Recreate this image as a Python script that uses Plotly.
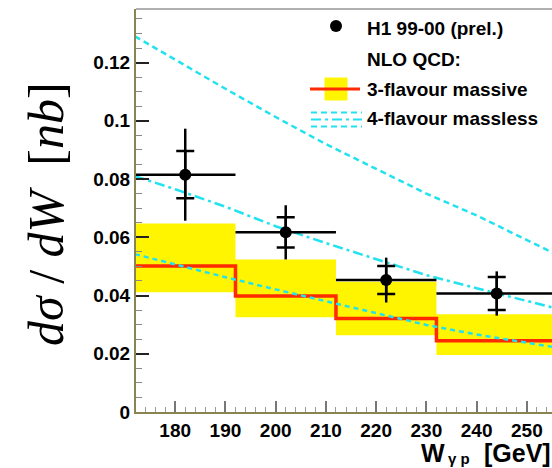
import plotly.graph_objects as go

# ---------------- data ----------------
W_edges = [172, 192, 212, 232, 256]
W_centers = [182, 202, 222, 244]
W_halfwidth = [10, 10, 10, 12]
h1_xsec = [0.0815, 0.0617, 0.0453, 0.0407]
h1_stat = [0.0081, 0.0052, 0.0048, 0.0057]
h1_tot = [0.0158, 0.0093, 0.0077, 0.0076]

mass3_central = [0.0501, 0.0398, 0.0321, 0.0245]
mass3_low = [0.0411, 0.0325, 0.0264, 0.0196]
mass3_high = [0.0647, 0.0524, 0.0447, 0.0336]

W_curve = [172, 180, 190, 200, 210, 220, 230, 240, 250, 256]
massless_up = [0.129, 0.121, 0.111, 0.1013, 0.092, 0.0835, 0.075, 0.0675, 0.059, 0.054]
massless_mid = [0.081, 0.0765, 0.0705, 0.0638, 0.058, 0.0525, 0.047, 0.0425, 0.038, 0.0355]
massless_low = [0.0542, 0.0506, 0.0463, 0.0421, 0.0381, 0.0341, 0.0299, 0.0266, 0.0238, 0.0221]

x_tick_vals = [180, 190, 200, 210, 220, 230, 240, 250]
x_tick_text = ["180", "190", "200", "210", "220", "230", "240", "250"]
y_tick_vals = [0, 0.02, 0.04, 0.06, 0.08, 0.1, 0.12]
y_tick_text = ["0", "0.02", "0.04", "0.06", "0.08", "0.1", "0.12"]

# ---------------- styling ----------------
YELLOW = "#fff500"
RED = "#ff2a00"
CYAN = "#22e2f0"
SANS = "Liberation Sans, Arial, sans-serif"
SERIF = "Liberation Serif, Times New Roman, serif"

W, H = 552, 468
ML, MR, MT, MB = 136, 0, 9, 56
PW, PH = W - ML - MR, H - MT - MB


def px(x):
    return (x - ML) / PW


def py(y):
    return (H - MB - y) / PH


def step(vals):
    return list(vals) + [vals[-1]]


fig = go.Figure()

# yellow band (3-flavour massive uncertainty)
fig.add_trace(go.Scatter(x=W_edges, y=step(mass3_low), mode="lines",
                         line=dict(shape="hv", width=0, color=YELLOW),
                         showlegend=False, hoverinfo="skip"))
fig.add_trace(go.Scatter(x=W_edges, y=step(mass3_high), mode="lines",
                         line=dict(shape="hv", width=0, color=YELLOW),
                         fill="tonexty", fillcolor=YELLOW,
                         showlegend=False, hoverinfo="skip"))
# red central line
fig.add_trace(go.Scatter(x=W_edges, y=step(mass3_central), mode="lines",
                         line=dict(shape="hv", width=3.5, color=RED),
                         showlegend=False))
# cyan 4-flavour massless curves
fig.add_trace(go.Scatter(x=W_curve, y=massless_up, mode="lines",
                         line=dict(color=CYAN, width=2.5, dash="6px,4px"),
                         showlegend=False))
fig.add_trace(go.Scatter(x=W_curve, y=massless_mid, mode="lines",
                         line=dict(color=CYAN, width=2.5, dash="10px,4px,3px,4px"),
                         showlegend=False))
fig.add_trace(go.Scatter(x=W_curve, y=massless_low, mode="lines",
                         line=dict(color=CYAN, width=2.5, dash="5px,4px"),
                         showlegend=False))

# data: total errors + bin widths
fig.add_trace(go.Scatter(x=W_centers, y=h1_xsec, mode="markers",
                         marker=dict(color="black", size=12),
                         error_y=dict(type="data", array=h1_tot, width=0,
                                      thickness=2.5, color="black"),
                         error_x=dict(type="data", array=W_halfwidth, width=0,
                                      thickness=2.5, color="black"),
                         showlegend=False))
# stat errors shown as crossbars
fig.add_trace(go.Scatter(x=W_centers, y=h1_xsec, mode="markers",
                         marker=dict(color="black", size=1, opacity=0),
                         error_y=dict(type="data", array=h1_stat, width=9,
                                      thickness=2.5, color="black"),
                         showlegend=False))

axis_col = "#8a8452"
TICK_FONT = dict(family=SANS, size=19, color="black", weight="bold")
fig.update_xaxes(range=[172.2, 255.0], showgrid=False, zeroline=False,
                 showline=True, linecolor=axis_col, linewidth=2,
                 tickvals=x_tick_vals, ticktext=x_tick_text,
                 ticks="inside", ticklen=11, tickwidth=1.5, tickcolor="#777777",
                 minor=dict(dtick=2, tick0=180, ticks="inside", ticklen=5,
                            tickwidth=1, tickcolor="#999999"),
                 tickfont=TICK_FONT)
fig.update_yaxes(range=[0, 0.1384], showgrid=False, zeroline=False,
                 showline=True, linecolor=axis_col, linewidth=2,
                 tickvals=y_tick_vals, ticktext=y_tick_text,
                 ticks="inside", ticklen=13, tickwidth=1.5, tickcolor="#222222",
                 minor=dict(dtick=0.005, tick0=0, ticks="inside", ticklen=6,
                            tickwidth=1, tickcolor="#888888"),
                 tickfont=TICK_FONT)

shapes = []
# top frame line
shapes.append(dict(type="line", xref="paper", yref="paper", x0=0, x1=1, y0=1, y1=1,
                   line=dict(color="#b0b0b0", width=2)))
# legend symbols
shapes.append(dict(type="circle", xref="paper", yref="paper",
                   x0=px(330), x1=px(342), y0=py(20), y1=py(32),
                   fillcolor="black", line=dict(width=0)))
shapes.append(dict(type="rect", xref="paper", yref="paper",
                   x0=px(324.5), x1=px(347.5), y0=py(77.5), y1=py(100.5),
                   fillcolor=YELLOW, line=dict(width=0)))
shapes.append(dict(type="line", xref="paper", yref="paper",
                   x0=px(310), x1=px(360), y0=py(89), y1=py(89),
                   line=dict(color=RED, width=3)))
for yy, dsh in [(112.5, "6px,4px"), (119.5, "10px,4px,3px,4px"), (126.5, "6px,4px")]:
    shapes.append(dict(type="line", xref="paper", yref="paper",
                       x0=px(311), x1=px(362), y0=py(yy), y1=py(yy),
                       line=dict(color=CYAN, width=2, dash=dsh)))

annotations = []
leg_font = dict(family=SANS, size=19, color="black", weight="bold")
for txt, yy in [("H1 99-00 (prel.)", 28), ("NLO QCD:", 60),
                ("3-flavour massive", 89), ("4-flavour massless", 118.5)]:
    annotations.append(dict(text=txt, xref="paper", yref="paper", x=px(365), y=py(yy),
                            xanchor="left", yanchor="middle", showarrow=False,
                            font=leg_font))
# x axis title, split so the subscript does not enlarge the text box
title_font = dict(family=SANS, size=25, color="black", weight="bold")
annotations.append(dict(text="W", xref="paper", yref="paper",
                        x=px(420), y=py(468), xanchor="left", yanchor="bottom",
                        showarrow=False, borderpad=0, font=title_font))
annotations.append(dict(text="γ p", xref="paper", yref="paper",
                        x=px(447), y=py(468), xanchor="left", yanchor="bottom",
                        showarrow=False, borderpad=0,
                        font=dict(family=SANS, size=15, color="black", weight="bold")))
annotations.append(dict(text="[GeV]", xref="paper", yref="paper",
                        x=px(552), y=py(468), xanchor="right", yanchor="bottom",
                        showarrow=False, borderpad=0, font=title_font))
annotations.append(dict(text="<i>dσ</i> / <i>dW</i>  [<i>nb</i>]", xref="paper", yref="paper",
                        x=px(46), y=py(214), xanchor="center", yanchor="middle",
                        textangle=-90, showarrow=False,
                        font=dict(family=SERIF, size=50, color="black")))

fig.update_layout(width=W, height=H,
                  margin=dict(l=ML, r=MR, t=MT, b=MB, autoexpand=False),
                  paper_bgcolor="white", plot_bgcolor="white",
                  shapes=shapes, annotations=annotations, showlegend=False)

fig.write_html("out.html", config={"displayModeBar": False},
               post_script="document.body.style.margin='0';document.body.style.overflow='hidden';")
